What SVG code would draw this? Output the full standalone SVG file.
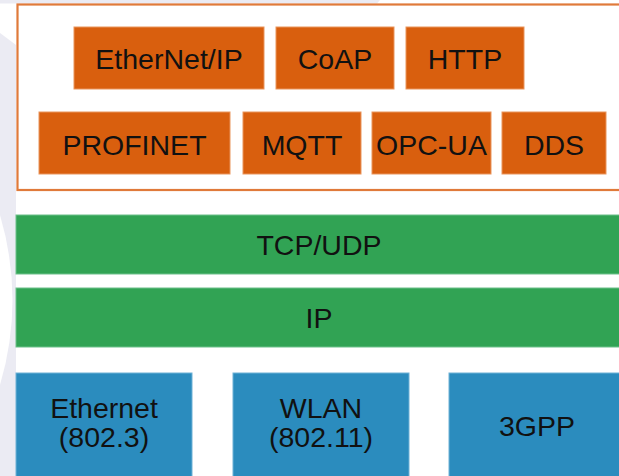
<svg xmlns="http://www.w3.org/2000/svg" width="619" height="476" viewBox="0 0 619 476">
<style>
text{font-family:"Liberation Sans",Arial,sans-serif;font-size:28.5px;fill:#111;text-anchor:middle}
.app rect{fill:#d95f0e;stroke:#e9955c;stroke-width:1}
.tr rect{fill:#31a354;stroke:#6cc08a;stroke-width:1}
.ll rect{fill:#2b8cbe;stroke:#6fb1d6;stroke-width:1}
</style>
<rect width="619" height="476" fill="#fff"/>
<g id="watermark" fill="#ebebf3">
<polygon points="0,0 380,0 377,3.5 0,3.5"/>
<path d="M0,33 L16,45 L16,476 L0,476 Z"/>
</g>
<path d="M0,215 Q25,300 0,385 Z" fill="#fff"/>
<g id="app-layer">
<rect x="17.5" y="4.5" width="610" height="185.5" fill="#fff" stroke="#e07a3a" stroke-width="2.2"/>
</g>
<g id="ethernetip" class="app"><rect x="74" y="27" width="190" height="62"/><text x="169" y="69">EtherNet/IP</text></g>
<g id="coap" class="app"><rect x="276" y="27" width="118" height="62"/><text x="335" y="69">CoAP</text></g>
<g id="http" class="app"><rect x="406" y="27" width="118" height="62"/><text x="465" y="69">HTTP</text></g>
<g id="profinet" class="app"><rect x="39" y="112" width="191" height="62"/><text x="134.5" y="155">PROFINET</text></g>
<g id="mqtt" class="app"><rect x="243" y="112" width="118" height="62"/><text x="302" y="155">MQTT</text></g>
<g id="opcua" class="app"><rect x="372" y="112" width="119" height="62"/><text x="431.5" y="155">OPC-UA</text></g>
<g id="dds" class="app"><rect x="502" y="112" width="104" height="62"/><text x="554" y="155">DDS</text></g>
<g id="tcpudp" class="tr"><rect x="16" y="215" width="610" height="59"/><text x="319" y="255">TCP/UDP</text></g>
<g id="ip" class="tr"><rect x="16" y="288" width="610" height="59"/><text x="319" y="328">IP</text></g>
<g id="ethernet" class="ll"><rect x="16" y="373" width="176" height="110"/><text x="104" y="418">Ethernet</text><text x="104" y="447">(802.3)</text></g>
<g id="wlan" class="ll"><rect x="233" y="373" width="176" height="110"/><text x="321" y="418">WLAN</text><text x="321" y="447">(802.11)</text></g>
<g id="3gpp" class="ll"><rect x="449" y="373" width="176" height="110"/><text x="537" y="436">3GPP</text></g>
<g id="connectors"/>
</svg>
